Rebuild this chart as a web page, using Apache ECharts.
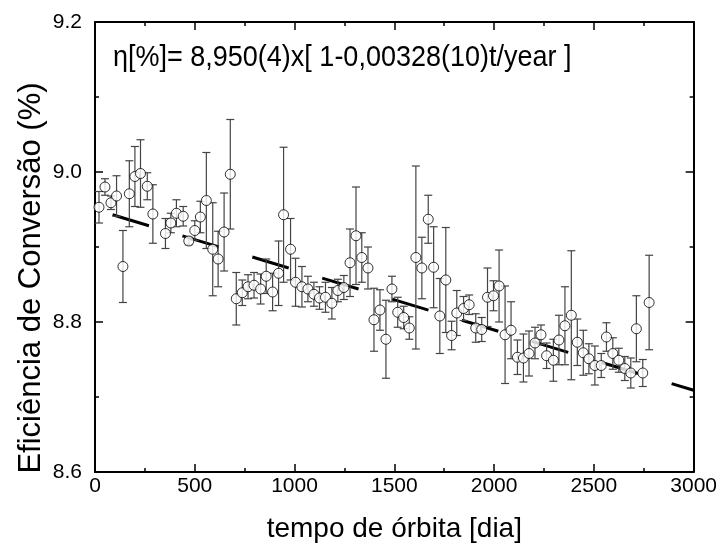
<!DOCTYPE html>
<html>
<head>
<meta charset="utf-8">
<script src="https://cdn.jsdelivr.net/npm/echarts@6/dist/echarts.min.js"></script>
<style>
  html, body { margin: 0; padding: 0; background: #fff; }
  #chart { width: 720px; height: 549px; }
</style>
</head>
<body>
<div id="chart"></div>
<script>
// orbit time in days, conversion efficiency (%) and its error
const days = [20, 50, 80, 108, 140, 172, 200, 228, 262, 290, 353, 380, 408, 442, 470, 500, 528, 558, 590, 617,
  647, 678, 708, 738, 767, 797, 830, 858, 890, 920, 945, 980, 1005, 1037, 1067, 1097, 1125, 1155, 1187, 1217,
  1247, 1278, 1308, 1337, 1368, 1398, 1428, 1458, 1488, 1517, 1547, 1575, 1608, 1638, 1670, 1697, 1728, 1758,
  1787, 1813, 1847, 1875, 1908, 1938, 1967, 1997, 2025, 2055, 2085, 2117, 2147, 2175, 2205, 2235, 2263, 2297,
  2325, 2355, 2387, 2417, 2447, 2475, 2505, 2537, 2563, 2595, 2625, 2655, 2685, 2713, 2745, 2777]
const efficiency = [8.953, 8.980, 8.959, 8.968, 8.874, 8.971, 8.994, 8.998, 8.981, 8.944, 8.918, 8.932, 8.945,
  8.941, 8.908, 8.922, 8.940, 8.962, 8.897, 8.884, 8.920, 8.997, 8.831, 8.839, 8.847, 8.849, 8.844, 8.861,
  8.840, 8.865, 8.943, 8.897, 8.853, 8.847, 8.844, 8.837, 8.832, 8.833, 8.825, 8.842, 8.846, 8.879, 8.915,
  8.886, 8.872, 8.803, 8.816, 8.777, 8.844, 8.813, 8.806, 8.792, 8.886, 8.872, 8.937, 8.873, 8.808, 8.856,
  8.782, 8.812, 8.818, 8.823, 8.792, 8.790, 8.833, 8.835, 8.848, 8.783, 8.789, 8.753, 8.752, 8.758, 8.772,
  8.783, 8.755, 8.749, 8.776, 8.795, 8.809, 8.773, 8.759, 8.751, 8.742, 8.742, 8.780, 8.758, 8.749, 8.738,
  8.732, 8.791, 8.732, 8.826]
const errors = [0.021, 0.011, 0.009, 0.027, 0.048, 0.044, 0.040, 0.045, 0.018, 0.039, 0.020, 0.013, 0.018,
  0.013, 0.005, 0.013, 0.021, 0.064, 0.062, 0.037, 0.052, 0.073, 0.035, 0.017, 0.016, 0.017, 0.020, 0.023,
  0.025, 0.043, 0.090, 0.041, 0.032, 0.027, 0.017, 0.016, 0.015, 0.020, 0.021, 0.015, 0.016, 0.045, 0.065,
  0.033, 0.028, 0.042, 0.027, 0.052, 0.017, 0.020, 0.015, 0.015, 0.122, 0.041, 0.032, 0.054, 0.050, 0.070,
  0.019, 0.030, 0.016, 0.013, 0.019, 0.016, 0.039, 0.020, 0.048, 0.065, 0.038, 0.023, 0.032, 0.030, 0.021,
  0.013, 0.017, 0.028, 0.033, 0.052, 0.086, 0.031, 0.030, 0.020, 0.026, 0.016, 0.019, 0.021, 0.016, 0.016,
  0.020, 0.044, 0.018, 0.063]

// fitted line end points
const fitDays = [88, 3000]
const fitValues = [8.943, 8.709]

const xTicks = { min: 0, max: 3000, interval: 500 }
const yTicks = { min: 8.6, max: 9.2, interval: 0.2 }
const formula = "η[%]= 8,950(4)x[ 1-0,00328(10)t/year ]"
const yName = "Eficiência de Conversão (%)"
const xName = "tempo de órbita [dia]"

const chart = echarts.init(document.getElementById("chart"))
const font = "Liberation Sans, Arial, sans-serif"

const frameAxis = (extra) => ({
  axisLine: { show: true, onZero: false, lineStyle: { color: "#000", width: 2 } },
  axisTick: { show: true, inside: true, length: 8, lineStyle: { color: "#000", width: 1.5 } },
  minorTick: { show: true, splitNumber: 2, length: 4, lineStyle: { color: "#000", width: 1.5 } },
  splitLine: { show: false },
  ...extra,
})

chart.setOption({
  animation: false,
  textStyle: { fontFamily: font, color: "#000" },
  grid: { left: 95, right: 25, top: 22, bottom: 77 },
  xAxis: [
    frameAxis({
      type: "value",
      ...xTicks,
      position: "bottom",
      name: xName,
      nameLocation: "middle",
      nameGap: 43,
      nameTextStyle: { fontSize: 28, fontFamily: font, color: "#000" },
      axisLabel: { fontSize: 21, color: "#000", margin: 4, fontFamily: font, formatter: (v) => String(v) },
    }),
    frameAxis({ type: "value", ...xTicks, position: "top", axisLabel: { show: false } }),
  ],
  yAxis: [
    frameAxis({
      type: "value",
      ...yTicks,
      position: "left",
      axisLabel: {
        fontSize: 21, color: "#000", margin: 13, fontFamily: font,
        formatter: (v) => v.toFixed(1),
      },
    }),
    frameAxis({ type: "value", ...yTicks, position: "right", axisLabel: { show: false } }),
  ],
  graphic: [
    {
      type: "text",
      x: 113,
      y: 58,
      scaleY: 1.12,
      style: { text: formula, font: "27px " + font, fill: "#000", verticalAlign: "middle" },
    },
    {
      type: "text",
      x: 31,
      y: 278,
      rotation: Math.PI / 2,
      style: { text: yName, font: "31px " + font, fill: "#000", align: "center", verticalAlign: "middle" },
    },
  ],
  series: [
    {
      type: "line",
      data: fitDays.map((d, i) => [d, fitValues[i]]),
      showSymbol: false,
      lineStyle: { color: "#000", width: 3, type: [38, 35] },
      z: 1,
    },
    {
      type: "custom",
      data: days.map((d, i) => [d, efficiency[i] - errors[i], efficiency[i] + errors[i]]),
      renderItem: (params, api) => {
        const lo = api.coord([api.value(0), api.value(1)])
        const hi = api.coord([api.value(0), api.value(2)])
        const half = 4
        const style = { stroke: "#444", lineWidth: 1.2 }
        return {
          type: "group",
          children: [
            { type: "line", shape: { x1: lo[0], y1: lo[1], x2: hi[0], y2: hi[1] }, style },
            { type: "line", shape: { x1: lo[0] - half, y1: lo[1], x2: lo[0] + half, y2: lo[1] }, style },
            { type: "line", shape: { x1: hi[0] - half, y1: hi[1], x2: hi[0] + half, y2: hi[1] }, style },
          ],
        }
      },
      z: 2,
    },
    {
      type: "scatter",
      data: days.map((d, i) => [d, efficiency[i]]),
      symbol: "circle",
      symbolSize: 10,
      itemStyle: { color: "#fff", borderColor: "#000", borderWidth: 1 },
      z: 3,
    },
  ],
})
</script>
</body>
</html>
